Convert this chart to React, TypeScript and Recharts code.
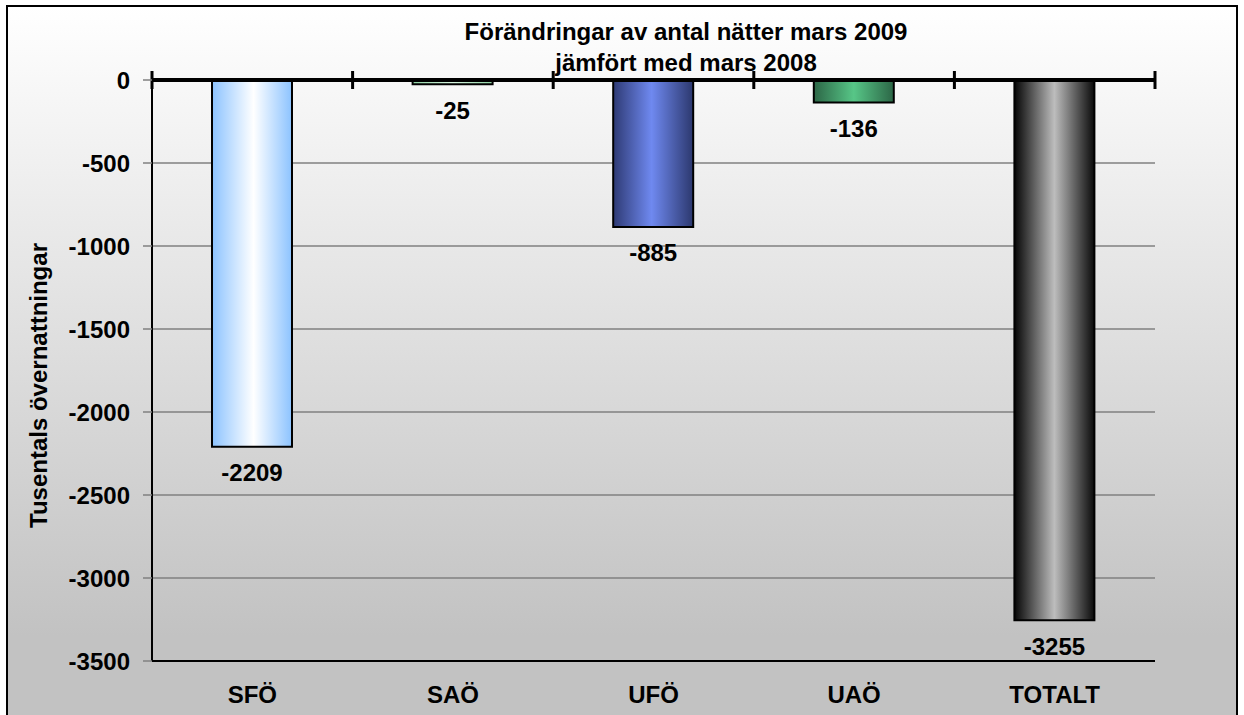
import { Bar, BarChart, CartesianGrid, Cell, LabelList, ReferenceLine, XAxis, YAxis } from "recharts";

const categories = ["SFÖ", "SAÖ", "UFÖ", "UAÖ", "TOTALT"];
const changes = [-2209, -25, -885, -136, -3255];
const yTicks = [0, -500, -1000, -1500, -2000, -2500, -3000, -3500];

const gradients = [
  { id: "g-sfo", stops: ["#8cc3ff", "#ffffff", "#8cc3ff"], mid: "52%" },
  { id: "g-sao", stops: ["#8fd3a4", "#d8f5e0", "#8fd3a4"], mid: "50%" },
  { id: "g-ufo", stops: ["#2e3a74", "#6f89f0", "#2c386e"], mid: "48%" },
  { id: "g-uao", stops: ["#2c6646", "#57c687", "#2c6646"], mid: "50%" },
  { id: "g-tot", stops: ["#050505", "#bdbdbd", "#0a0a0a"], mid: "50%" }
];

const data = categories.map((name, i) => ({ name, value: changes[i] }));
const FONT = "'Liberation Sans', Arial, sans-serif";

function ZeroLine(props: any) {
  const { x1, x2, y1 } = props;
  const step = (x2 - x1) / categories.length;
  const marks = [];
  for (let i = 0; i <= categories.length; i++) {
    const x = x1 + step * i;
    marks.push(<line key={i} x1={x} x2={x} y1={y1 - 9} y2={y1 + 9} stroke="#000" strokeWidth={3} />);
  }
  return (
    <g>
      <line x1={x1} x2={x2} y1={y1} y2={y1} stroke="#000" strokeWidth={4} />
      {marks}
    </g>
  );
}

function BarValue(props: any) {
  const { x, y, width, height, value } = props;
  const bottom = Math.max(y, y + height);
  return (
    <text
      x={x + width / 2}
      y={bottom + 26}
      textAnchor="middle"
      dominantBaseline="central"
      fontFamily={FONT}
      fontWeight="bold"
      fontSize={24}
      fill="#000"
    >
      {value}
    </text>
  );
}

export default function App() {
  return (
    <div style={{ position: "absolute", left: 0, top: 0, width: 1244, height: 715, overflow: "hidden", background: "#fff" }}>
      <div
        style={{
          position: "absolute",
          left: 6,
          top: 5,
          width: 1228,
          height: 740,
          border: "2px solid #000",
          background: "linear-gradient(#ffffff 0%, #c2c2c2 85%, #c2c2c2 100%)"
        }}
      />
      <div
        style={{
          position: "absolute",
          left: 0,
          width: 1372,
          top: 16,
          textAlign: "center",
          fontFamily: FONT,
          fontWeight: "bold",
          fontSize: 24,
          lineHeight: "31px",
          color: "#000"
        }}
      >
        Förändringar av antal nätter mars 2009
        <br />
        jämfört med mars 2008
      </div>
      <div style={{ position: "absolute", left: 0, top: 0 }}>
        <BarChart
          width={1244}
          height={715}
          data={data}
          margin={{ top: 80, right: 89, bottom: 24, left: 0 }}
          barSize={80}
        >
          <defs>
            {gradients.map((g) => (
              <linearGradient key={g.id} id={g.id} x1="0" y1="0" x2="1" y2="0">
                <stop offset="0%" stopColor={g.stops[0]} />
                <stop offset={g.mid} stopColor={g.stops[1]} />
                <stop offset="100%" stopColor={g.stops[2]} />
              </linearGradient>
            ))}
          </defs>
          <CartesianGrid horizontal vertical={false} stroke="#808080" strokeWidth={1.5} />
          <XAxis
            dataKey="name"
            height={30}
            tickLine={false}
            axisLine={{ stroke: "#000", strokeWidth: 2 }}
            tickMargin={19}
            tick={{ fontFamily: FONT, fontWeight: "bold", fontSize: 24, fill: "#000" }}
          />
          <YAxis
            width={152}
            domain={[-3500, 0]}
            ticks={yTicks}
            interval={0}
            tickSize={9}
            tickMargin={13}
            tickLine={{ stroke: "#808080", strokeWidth: 1.5 }}
            axisLine={{ stroke: "#000", strokeWidth: 2 }}
            tick={{ fontFamily: FONT, fontWeight: "bold", fontSize: 24, fill: "#000" }}
            label={{
              value: "Tusentals övernattningar",
              angle: -90,
              position: "insideLeft",
              dx: 33,
              dy: 15,
              style: { fontFamily: FONT, fontWeight: "bold", fontSize: 24, fill: "#000", textAnchor: "middle" }
            }}
          />
          <YAxis
            yAxisId="right"
            orientation="right"
            width={0}
            domain={[-3500, 0]}
            tick={false}
            tickLine={false}
            axisLine={{ stroke: "#000", strokeWidth: 2 }}
          />
          <Bar dataKey="value" stroke="#000" strokeWidth={2} isAnimationActive={false}>
            {data.map((d, i) => (
              <Cell key={d.name} fill={`url(#${gradients[i].id})`} />
            ))}
            <LabelList dataKey="value" content={<BarValue />} />
          </Bar>
          <ReferenceLine y={0} shape={<ZeroLine />} />
        </BarChart>
      </div>
    </div>
  );
}
